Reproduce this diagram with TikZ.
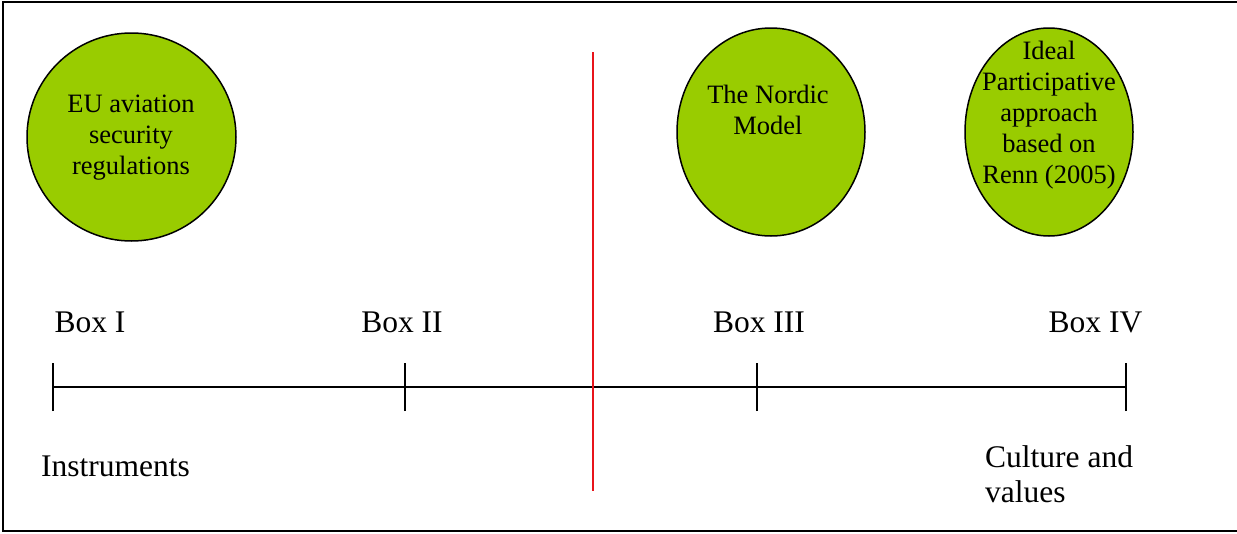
\documentclass[tikz,border=0pt]{standalone}
\usepackage{fontspec}
\setmainfont{Liberation Serif}
\usetikzlibrary{shapes.geometric}
\definecolor{leaf}{HTML}{99CC00}
\definecolor{divider}{HTML}{E8141B}
\tikzset{
  bubble/.style={ellipse, draw=black, line width=1.5pt, fill=leaf, inner sep=0pt},
  bubbletext/.style={align=center, inner sep=0pt, font=\fontsize{26.5}{31}\selectfont},
  label/.style={inner sep=0pt, font=\fontsize{31.5}{35}\selectfont},
  axis/.style={line width=1.5pt},
  tick/.style={line width=1.5pt},
}
\begin{document}
\begin{tikzpicture}[x=1pt, y=-1pt]
  \useasboundingbox (0,0) rectangle (1237,533);
  % frame (the right edge lies beyond the page)
  \draw[line width=1.5pt] (1245,2) -- (3,2) -- (3,531) -- (1245,531);

  % bubbles
  \node[bubble, minimum width=209pt, minimum height=208pt] (eu) at (131.5,137) {};
  \node[bubbletext] (eutext) at (131,138) {EU aviation\\security\\regulations};
  \node[bubble, minimum width=188pt, minimum height=208pt] (nordic) at (771,132) {};
  \node[bubbletext] (nordictext) at (768,109.5) {The Nordic\\Model};
  \node[bubble, minimum width=168pt, minimum height=208pt] (ideal) at (1049,132) {};
  \node[bubbletext] (idealtext) at (1049,115.5) {Ideal\\Participative\\approach\\based on\\Renn (2005)};

  % scale with ticks
  \coordinate (t1) at (53,387);
  \coordinate (t2) at (405,387);
  \coordinate (t3) at (757,387);
  \coordinate (t4) at (1126,387);
  \draw[axis] (t1) -- (t4);
  \foreach \t in {t1,t2,t3,t4}
    \draw[tick] ([yshift=-24pt]\t) -- ([yshift=24pt]\t);

  % box labels
  \node[label] (b1) at (90,322) {Box I};
  \node[label] (b2) at (402,322) {Box II};
  \node[label] (b3) at (759,322) {Box III};
  \node[label] (b4) at (1095.5,322) {Box IV};

  % end labels
  \node[label] (instr) at (115.5,466) {Instruments};
  \node[label, align=left, anchor=west] (culture) at (985,474.5) {Culture and\\values};

  % divider
  \coordinate (dtop) at (593,52);
  \coordinate (dbot) at (593,491);
  \draw[divider, line width=1.2pt] (dtop) -- (dbot);
\end{tikzpicture}
\end{document}
